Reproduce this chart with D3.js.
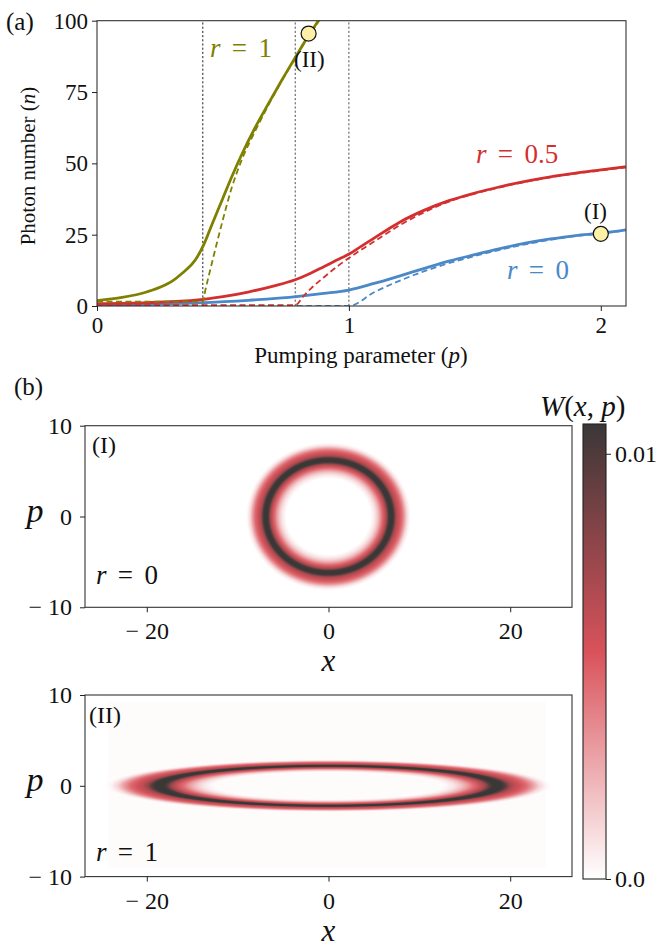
<!DOCTYPE html>
<html><head><meta charset="utf-8">
<script src="https://cdn.jsdelivr.net/npm/d3@7"></script>
<style>
html,body{margin:0;padding:0;background:#fff;}
svg{display:block;}
svg text{font-family:'Liberation Serif','DejaVu Serif','Tinos','Times New Roman','Noto Serif',serif;}
</style></head><body>
<svg id="fig" width="658" height="948"></svg>
<script>
// ================= DATA =================
// Panel (a): photon number vs pumping parameter
const pumpTicks = [0, 1, 2];
const photonTicks = [0, 25, 50, 75, 100];
const thresholds = [0.42, 0.787, 1.0];

const r0SolidP = [0, 0.2, 0.4, 0.6, 0.8, 0.9, 1.0, 1.1, 1.2, 1.3, 1.4, 1.5, 1.6, 1.7, 1.8, 1.9, 2.0, 2.1];
const r0SolidN = [0.3, 0.6, 1.1, 2.0, 3.4, 4.4, 5.6, 7.9, 10.5, 13.2, 15.8, 18.0, 20.1, 22.0, 23.5, 24.7, 25.5, 26.7];
const r0DashP  = [0, 1.0, 1.1, 1.2, 1.3, 1.4, 1.5, 1.6, 1.7, 1.8, 1.9, 2.0, 2.1];
const r0DashN  = [0, 0, 4.8, 8.8, 12.2, 15.1, 17.5, 19.7, 21.6, 23.2, 24.5, 25.4, 26.5];

const r05SolidP = [0, 0.2, 0.4, 0.5, 0.6, 0.7, 0.787, 0.85, 0.9, 0.95, 1.0, 1.05, 1.1, 1.2, 1.3, 1.4, 1.5, 1.6, 1.7, 1.8, 1.9, 2.0, 2.1];
const r05SolidN = [0.8, 1.2, 2.1, 3.3, 4.9, 7.0, 9.2, 11.6, 13.8, 16.0, 18.2, 21.0, 23.8, 29.3, 33.6, 37.0, 39.6, 41.8, 43.7, 45.3, 46.6, 47.7, 48.8];
const r05DashP  = [0, 0.787, 0.82, 0.85, 0.9, 0.95, 1.0, 1.05, 1.1, 1.2, 1.3, 1.4, 1.5, 1.6, 1.7, 1.8, 1.9, 2.0, 2.1];
const r05DashN  = [0.3, 0.3, 3.5, 6.2, 10.0, 13.6, 16.8, 19.8, 22.6, 28.2, 32.9, 36.7, 39.4, 41.6, 43.5, 45.1, 46.4, 47.5, 48.6];

const r1SolidP = [0, 0.1, 0.2, 0.257, 0.3, 0.337, 0.39, 0.42, 0.456, 0.496, 0.535, 0.575, 0.628, 0.681, 0.734, 0.787, 0.827, 0.88, 0.92];
const r1SolidN = [1.9, 3.0, 5.0, 6.8, 8.8, 11.4, 16.1, 20.8, 28.5, 37.0, 45.3, 53.2, 62.6, 71.0, 79.2, 87.1, 93.0, 100.2, 106];
const r1DashP  = [0, 0.42, 0.43, 0.456, 0.496, 0.535, 0.575, 0.628, 0.681, 0.734, 0.787, 0.827, 0.88, 0.92];
const r1DashN  = [1.5, 1.5, 5.5, 15.0, 29.0, 41.5, 51.3, 61.3, 70.5, 79.0, 86.8, 92.7, 99.8, 105];

const seriesNames = ["0", "0.5", "1"];
const markerP = [2.0, 0.84];
const markerN = [25.3, 95.5];
const markerTags = ["(I)", "(II)"];

// Panel (b): Wigner function, radial profile across the ring (relative to ring radius)
const wigRel = [0.66, 0.70, 0.74, 0.78, 0.82, 0.86, 0.90, 0.93, 0.955, 0.975, 1.025, 1.045, 1.07, 1.10, 1.13, 1.17, 1.21, 1.25, 1.29, 1.33];
const wigW   = [0, 0.0003, 0.0008, 0.0017, 0.0030, 0.0046, 0.0060, 0.0075, 0.0098, 0.0107, 0.0107, 0.0098, 0.0076, 0.0063, 0.0056, 0.0046, 0.0030, 0.0012, 0.0003, 0];
const ringX = [6.9, 18.6];     // ring semi-axis along x for (I), (II)
const ringP = [6.2, 2.2];      // ring semi-axis along p
const bgW = [0, 0.00012];      // background value inside image extent
const bgX = [[-26.8, 26.8], [-24.3, 23.9]];
const bgP = [[-10, 10], [-9.1, 9.3]];
const panelTags = ["(I)", "(II)"];
const panelR = ["0", "1"];
const quadXTicks = [-20, 0, 20];
const quadPTicks = [-10, 0, 10];
const cbTicks = [0, 0.01];
const cbTickLabels = ["0.0", "0.01"];
const cmapW = [0, 0.00535, 0.0107];
const cmapColors = ["#ffffff", "#d9525a", "#3a3737"];

// ================= DRAWING =================
const FONT = "'Liberation Serif','DejaVu Serif','Tinos','Times New Roman','Noto Serif',serif";
const svg = d3.select("#fig");
const defs = svg.append("defs");
const colors = {"0": "#4a88c8", "0.5": "#d42f2f", "1": "#808000"};

function mathText(parent, x, y, parts, size, color, anchor) {
  const t = parent.append("text").attr("x", x).attr("y", y)
    .style("font-family", FONT).attr("font-size", size)
    .attr("fill", color || "#111").attr("text-anchor", anchor || "start");
  parts.forEach(p => {
    const s = t.append("tspan").text(p.t);
    if (p.i) s.attr("font-style", "italic");
    if (p.dx) s.attr("dx", p.dx);
  });
  return t;
}
function rEq(val) {
  return [{t: "r", i: true}, {t: "=", dx: "0.42em"}, {t: val, dx: "0.42em"}];
}
function styleAxis(g, size) {
  g.select(".domain").remove();
  g.attr("font-size", size);
  g.selectAll("text").style("font-family", FONT).attr("fill", "#111");
  g.selectAll("line").attr("stroke", "#222");
}

// ---------- Panel (a) ----------
const A = {l: 97, r: 626, t: 20.7, b: 306};
const xA = d3.scaleLinear().domain([0, 2.1]).range([A.l, A.r]);
const yA = d3.scaleLinear().domain([0, 100]).range([A.b, A.t]);

defs.append("clipPath").attr("id", "clipA").append("rect")
  .attr("x", A.l).attr("y", A.t).attr("width", A.r - A.l).attr("height", A.b - A.t);

const gA = svg.append("g");
const plotA = gA.append("g").attr("clip-path", "url(#clipA)");

plotA.selectAll("line.thr").data(thresholds).join("line").attr("class", "thr")
  .attr("x1", d => xA(d)).attr("x2", d => xA(d))
  .attr("y1", yA(0)).attr("y2", yA(100))
  .attr("stroke", (d, i) => i === 0 ? "#222" : "#555")
  .attr("stroke-width", 1).attr("stroke-dasharray", "2.2,2");

const line = d3.line().x(d => xA(d[0])).y(d => yA(d[1])).curve(d3.curveMonotoneX);
const series = [
  {r: "0", p: r0SolidP, n: r0SolidN, dash: false},
  {r: "0.5", p: r05SolidP, n: r05SolidN, dash: false},
  {r: "1", p: r1SolidP, n: r1SolidN, dash: false},
  {r: "0", p: r0DashP, n: r0DashN, dash: true},
  {r: "0.5", p: r05DashP, n: r05DashN, dash: true},
  {r: "1", p: r1DashP, n: r1DashN, dash: true}
];
series.forEach(s => {
  plotA.append("path").datum(s.p.map((p, i) => [p, s.n[i]]))
    .attr("d", line).attr("fill", "none")
    .attr("stroke", colors[s.r])
    .attr("stroke-width", s.dash ? 1.8 : 2.8)
    .attr("stroke-dasharray", s.dash ? "6,3.5" : null);
});

gA.append("rect").attr("x", A.l).attr("y", A.t).attr("width", A.r - A.l).attr("height", A.b - A.t)
  .attr("fill", "none").attr("stroke", "#333").attr("stroke-width", 1.1);

const axXA = gA.append("g").attr("transform", `translate(0,${A.b})`)
  .call(d3.axisBottom(xA).tickValues(pumpTicks).tickSize(5).tickPadding(6).tickFormat(d => d));
const axYA = gA.append("g").attr("transform", `translate(${A.l},0)`)
  .call(d3.axisLeft(yA).tickValues(photonTicks).tickSize(5).tickPadding(4).tickFormat(d => d));
styleAxis(axXA, 23);
styleAxis(axYA, 23);

gA.selectAll("circle.mk").data(markerP).join("circle").attr("class", "mk")
  .attr("cx", d => xA(d)).attr("cy", (d, i) => yA(markerN[i])).attr("r", 7.5)
  .attr("fill", "#fcf0a8").attr("stroke", "#111").attr("stroke-width", 1.2);

mathText(gA, 584, 219, [{t: markerTags[0]}], 23);
mathText(gA, 294, 67, [{t: markerTags[1]}], 23);
mathText(gA, 210, 57, rEq(seriesNames[2]), 27, colors["1"]);
mathText(gA, 476, 163, rEq(seriesNames[1]), 27, colors["0.5"]);
mathText(gA, 507, 279, rEq(seriesNames[0]), 27, colors["0"]);

mathText(svg, 6, 30, [{t: "(a)"}], 25);
mathText(svg, 14, 395, [{t: "(b)"}], 25);

mathText(svg, 361, 363, [{t: "Pumping parameter "}, {t: "("}, {t: "p", i: true}, {t: ")"}], 23, "#111", "middle");
mathText(svg, 0, 0, [{t: "Photon number "}, {t: "("}, {t: "n", i: true}, {t: ")"}], 21, "#111", "middle")
  .attr("transform", "translate(35,166) rotate(-90)");

// ---------- Panel (b) ----------
const cmap = d3.scaleLinear().domain(cmapW).range(cmapColors).interpolate(d3.interpolateRgb).clamp(true);
const B = {l: 85, r: 572};
const panelTops = [425.7, 695];
const panelH = 181.6;
const relMax = d3.max(wigRel);

panelTags.forEach((tag, k) => {
  const top = panelTops[k], bot = top + panelH;
  const xB = d3.scaleLinear().domain([-26.8, 26.8]).range([B.l, B.r]);
  const yB = d3.scaleLinear().domain([-10, 10]).range([bot, top]);
  const g = svg.append("g");
  const cid = "clipB" + k;
  defs.append("clipPath").attr("id", cid).append("rect")
    .attr("x", B.l).attr("y", top).attr("width", B.r - B.l).attr("height", panelH);
  const plot = g.append("g").attr("clip-path", `url(#${cid})`);

  if (bgW[k] > 0) {
    plot.append("rect").attr("x", xB(bgX[k][0])).attr("y", yB(bgP[k][1]))
      .attr("width", xB(bgX[k][1]) - xB(bgX[k][0])).attr("height", yB(bgP[k][0]) - yB(bgP[k][1]))
      .attr("fill", cmap(bgW[k]));
  }
  const gid = "wig" + k;
  const grad = defs.append("radialGradient").attr("id", gid)
    .attr("cx", "50%").attr("cy", "50%").attr("r", "50%");
  wigRel.forEach((rel, i) => {
    grad.append("stop").attr("offset", rel / relMax).attr("stop-color", cmap(wigW[i]))
      .attr("stop-opacity", wigW[i] > 0 ? 1 : 0);
  });
  plot.append("ellipse").attr("cx", xB(0)).attr("cy", yB(0))
    .attr("rx", xB(relMax * ringX[k]) - xB(0)).attr("ry", yB(0) - yB(relMax * ringP[k]))
    .attr("fill", `url(#${gid})`);

  g.append("rect").attr("x", B.l).attr("y", top).attr("width", B.r - B.l).attr("height", panelH)
    .attr("fill", "none").attr("stroke", "#333").attr("stroke-width", 1.1);

  const fmt = d => d < 0 ? "\u2212 " + Math.abs(d) : "" + d;
  const axX = g.append("g").attr("transform", `translate(0,${bot})`)
    .call(d3.axisBottom(xB).tickValues(quadXTicks).tickSize(5).tickPadding(10).tickFormat(fmt));
  const axY = g.append("g").attr("transform", `translate(${B.l},0)`)
    .call(d3.axisLeft(yB).tickValues(quadPTicks).tickSize(5).tickPadding(8).tickFormat(fmt));
  styleAxis(axX, 24);
  styleAxis(axY, 24);

  mathText(g, k === 0 ? 92 : 89, top + (k === 0 ? 27 : 28), [{t: tag}], 24);
  mathText(g, 96, bot - (k === 0 ? 23 : 16), rEq(panelR[k]), 27);
  mathText(g, 35, yB(0) + 5, [{t: "p", i: true}], 34, "#111", "middle");
  mathText(g, xB(0), k === 0 ? 671 : 941, [{t: "x", i: true}], 31, "#111", "middle");
});

// ---------- Colorbar ----------
const CB = {l: 583, r: 606, t: 424, b: 879};
const yC = d3.scaleLinear().domain([cmapW[0], cmapW[cmapW.length - 1]]).range([CB.b, CB.t]);
const cbGrad = defs.append("linearGradient").attr("id", "cbGrad")
  .attr("x1", 0).attr("y1", 1).attr("x2", 0).attr("y2", 0);
cmapW.forEach((w, i) => {
  cbGrad.append("stop").attr("offset", (w - cmapW[0]) / (cmapW[cmapW.length - 1] - cmapW[0]))
    .attr("stop-color", cmapColors[i]);
});
svg.append("rect").attr("x", CB.l).attr("y", CB.t).attr("width", CB.r - CB.l).attr("height", CB.b - CB.t)
  .attr("fill", "url(#cbGrad)").attr("stroke", "#222").attr("stroke-width", 1.1);
const axC = svg.append("g").attr("transform", `translate(${CB.r},0)`)
  .call(d3.axisRight(yC).tickValues(cbTicks).tickSize(5).tickPadding(4).tickFormat((d, i) => cbTickLabels[i]));
styleAxis(axC, 24);

mathText(svg, 540, 416, [{t: "W", i: true}, {t: "("}, {t: "x", i: true}, {t: ", "}, {t: "p", i: true}, {t: ")"}], 29);
</script>
</body></html>
